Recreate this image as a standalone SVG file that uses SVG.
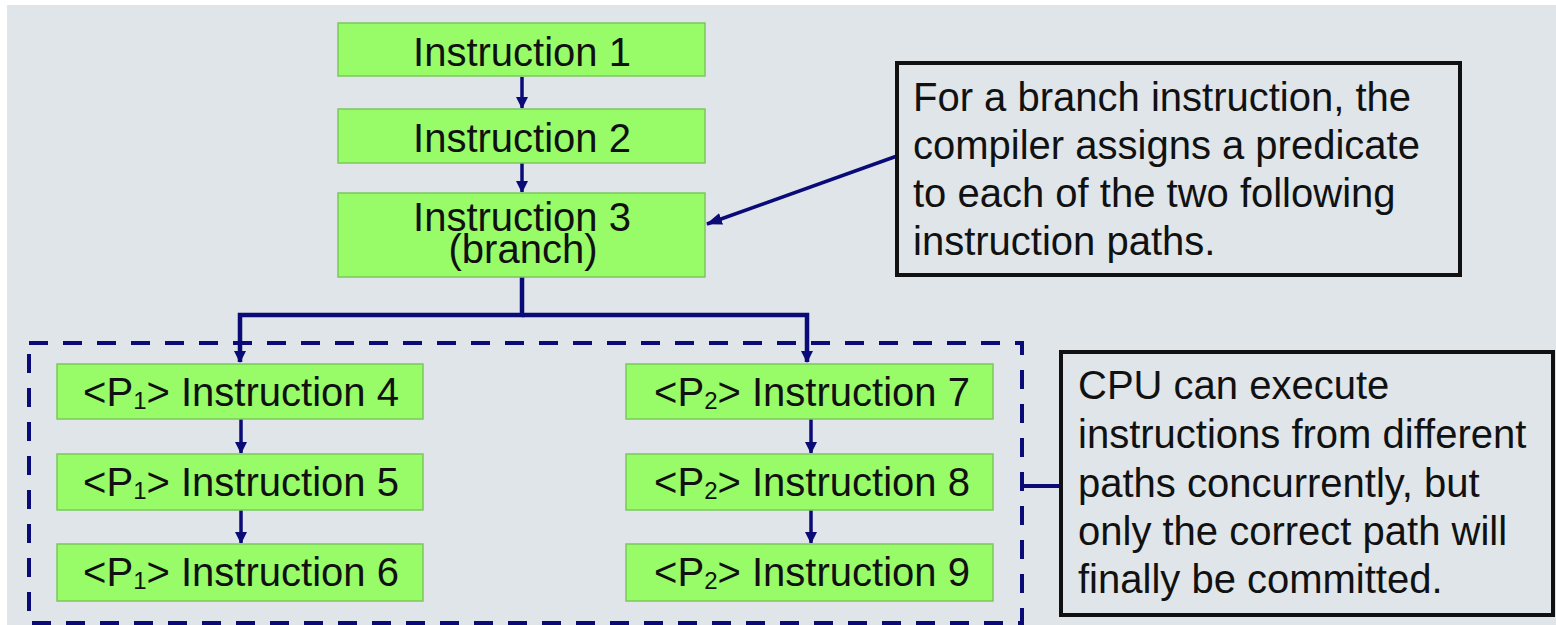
<svg xmlns="http://www.w3.org/2000/svg" width="1556" height="625" viewBox="0 0 1556 625">
<defs>
<marker id="ah" markerUnits="userSpaceOnUse" markerWidth="16" markerHeight="14" viewBox="0 0 16 14" refX="15" refY="7" orient="auto">
<path d="M0,1 L16,7 L0,13 z" fill="#0b0b78"/>
</marker>
<marker id="ahs" markerUnits="userSpaceOnUse" markerWidth="12" markerHeight="13" viewBox="0 0 12 13" refX="11" refY="6.5" orient="auto">
<path d="M0,0.5 L12,6.5 L0,12.5 z" fill="#0b0b78"/>
</marker>
<style>
.box{fill:#98fb68;stroke:#7cc85c;stroke-width:1.5}
.t{font-family:"Liberation Sans",Arial,sans-serif;font-size:40px;fill:#111}
.c{text-anchor:middle}
.sub{font-size:24px}
.call{fill:none;stroke:#111;stroke-width:4}
.ln{fill:none;stroke:#0b0b78;stroke-width:3.5}
.thick{fill:none;stroke:#0b0b78;stroke-width:4.5}
.dash{fill:none;stroke:#0b0b78;stroke-width:4;stroke-dasharray:19 15}
</style>
</defs>
<rect x="0" y="0" width="1556" height="625" fill="#ffffff"/>
<rect x="7" y="5" width="1549" height="620" fill="#dfe5e8"/>

<g id="connectors">
<line class="ln" x1="522" y1="77" x2="522" y2="108" marker-end="url(#ahs)"/>
<line class="ln" x1="522" y1="163" x2="522" y2="192" marker-end="url(#ahs)"/>
<polyline class="thick" points="522,277 522,315 240,315 240,362" marker-end="url(#ahs)"/>
<polyline class="thick" points="522,315 807,315 807,362" marker-end="url(#ahs)"/>
<line class="ln" x1="241" y1="419" x2="241" y2="453" marker-end="url(#ahs)"/>
<line class="ln" x1="241" y1="510" x2="241" y2="543" marker-end="url(#ahs)"/>
<line class="ln" x1="811" y1="419" x2="811" y2="453" marker-end="url(#ahs)"/>
<line class="ln" x1="811" y1="510" x2="811" y2="543" marker-end="url(#ahs)"/>
<line class="ln" x1="897" y1="156" x2="707" y2="224" marker-end="url(#ah)"/>
<polyline class="thick" points="1024,486 1061,486" style="stroke-width:4"/>
</g>

<g id="group-dashed">
<rect class="dash" x="29" y="343" width="993" height="280"/>
</g>

<g id="n1"><rect class="box" x="338" y="23" width="367" height="53"/><text class="t c" x="522" y="66">Instruction 1</text></g>
<g id="n2"><rect class="box" x="338" y="109" width="367" height="54"/><text class="t c" x="522" y="152">Instruction 2</text></g>
<g id="n3"><rect class="box" x="338" y="193" width="367" height="84"/><text class="t c" x="522" y="231">Instruction 3</text><text class="t c" x="523" y="263">(branch)</text></g>

<g id="n4"><rect class="box" x="57" y="364" width="366" height="55"/><text class="t c" x="241" y="406">&lt;P<tspan class="sub" dy="3">1</tspan><tspan dy="-3">&gt; Instruction 4</tspan></text></g>
<g id="n5"><rect class="box" x="57" y="454" width="366" height="56"/><text class="t c" x="241" y="496">&lt;P<tspan class="sub" dy="3">1</tspan><tspan dy="-3">&gt; Instruction 5</tspan></text></g>
<g id="n6"><rect class="box" x="57" y="544" width="366" height="57"/><text class="t c" x="241" y="586">&lt;P<tspan class="sub" dy="3">1</tspan><tspan dy="-3">&gt; Instruction 6</tspan></text></g>

<g id="n7"><rect class="box" x="626" y="364" width="367" height="55"/><text class="t c" x="812" y="406">&lt;P<tspan class="sub" dy="3">2</tspan><tspan dy="-3">&gt; Instruction 7</tspan></text></g>
<g id="n8"><rect class="box" x="626" y="454" width="367" height="56"/><text class="t c" x="812" y="496">&lt;P<tspan class="sub" dy="3">2</tspan><tspan dy="-3">&gt; Instruction 8</tspan></text></g>
<g id="n9"><rect class="box" x="626" y="544" width="367" height="57"/><text class="t c" x="812" y="586">&lt;P<tspan class="sub" dy="3">2</tspan><tspan dy="-3">&gt; Instruction 9</tspan></text></g>

<g id="callout1">
<rect class="call" x="897" y="63" width="563" height="212"/>
<text class="t" x="913" y="111">For a branch instruction, the</text>
<text class="t" x="913" y="159">compiler assigns a predicate</text>
<text class="t" x="913" y="207">to each of the two following</text>
<text class="t" x="913" y="255">instruction paths.</text>
</g>

<g id="callout2">
<rect class="call" x="1061" y="352" width="492" height="263"/>
<text class="t" x="1078" y="399">CPU can execute</text>
<text class="t" x="1078" y="448">instructions from different</text>
<text class="t" x="1078" y="497">paths concurrently, but</text>
<text class="t" x="1078" y="545">only the correct path will</text>
<text class="t" x="1078" y="593">finally be committed.</text>
</g>
</svg>
